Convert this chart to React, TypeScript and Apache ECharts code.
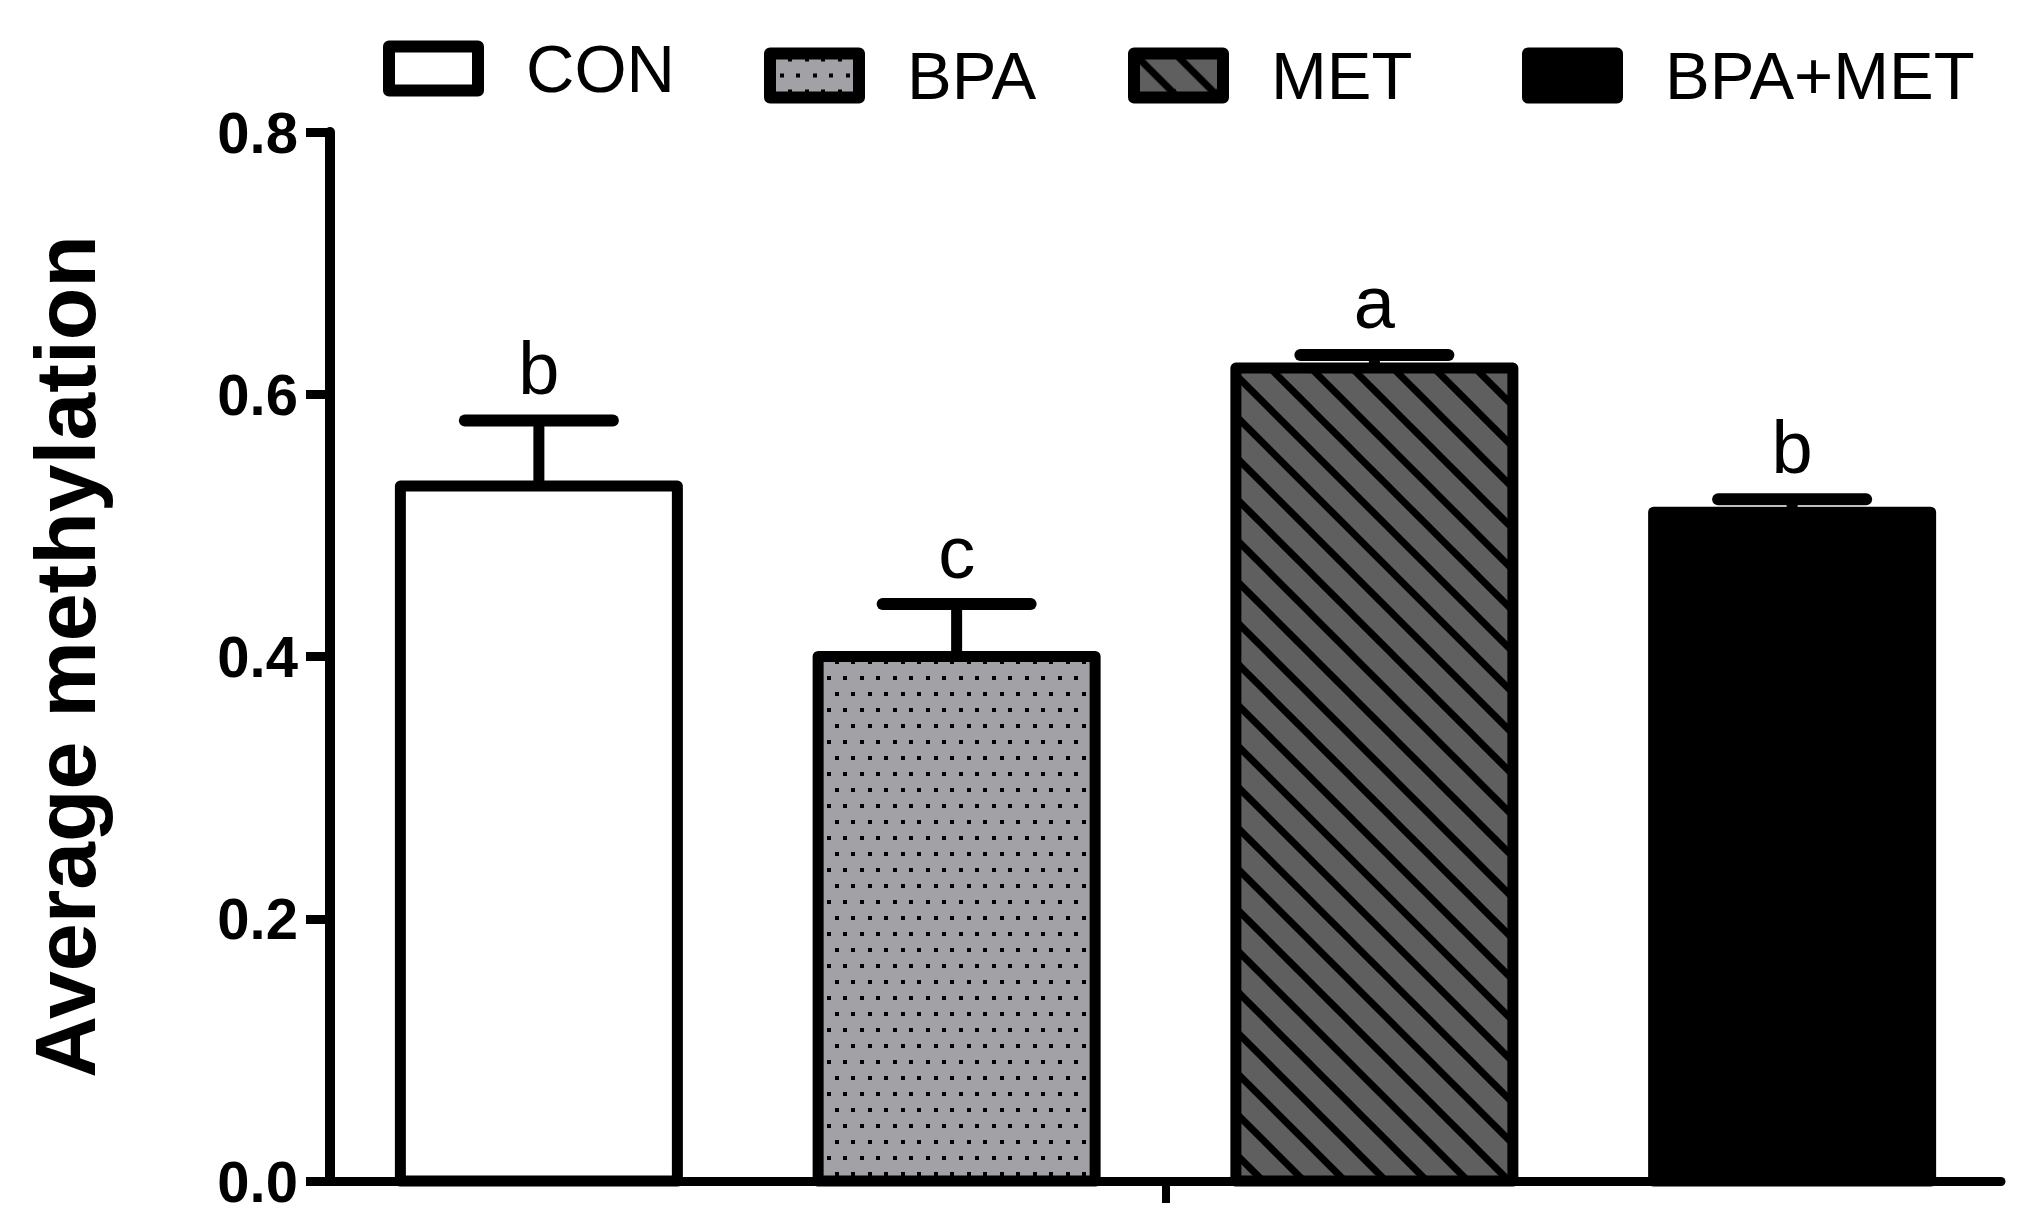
import React, { useEffect, useRef } from "react";
import * as echarts from "echarts";

const groups = ["CON", "BPA", "MET", "BPA+MET"];
const means = [0.53, 0.4, 0.62, 0.51];
const upper = [0.58, 0.44, 0.63, 0.52];
const letters = ["b", "c", "a", "b"];
const yTicks = [0, 0.2, 0.4, 0.6, 0.8];

const FONT = '"Liberation Sans", Arial, sans-serif';
const BAR_W = 277;
const BORDER = 11;
const legendLeft = [383, 764, 1128, 1522];
const legendTop = [35, 42, 42, 42];

function dotPattern() {
  const c = document.createElement("canvas");
  c.width = 33;
  c.height = 32;
  const g = c.getContext("2d")!;
  g.fillStyle = "#a2a1a6";
  g.fillRect(0, 0, 33, 32);
  g.fillStyle = "#000";
  [[2, 4], [18, 4], [10, 20], [26, 20]].forEach(([x, y]) => g.fillRect(x, y, 4, 4));
  return { image: c, repeat: "repeat", imageWidth: 33, imageHeight: 32 } as any;
}

function stripePattern() {
  const s = 41;
  const c = document.createElement("canvas");
  c.width = s;
  c.height = s;
  const g = c.getContext("2d")!;
  g.fillStyle = "#5f5f5f";
  g.fillRect(0, 0, s, s);
  g.strokeStyle = "#000";
  g.lineWidth = 7;
  for (let k = -1; k <= 1; k++) {
    g.beginPath();
    g.moveTo(-6, -6 + k * s);
    g.lineTo(s + 6, s + 6 + k * s);
    g.stroke();
  }
  return { image: c, repeat: "repeat", imageWidth: s, imageHeight: s } as any;
}

export default function App() {
  const ref = useRef<HTMLDivElement>(null);
  useEffect(() => {
    if (!ref.current) return;
    const chart = echarts.init(ref.current, null, { renderer: "svg" });
    const fills = ["#ffffff", dotPattern(), stripePattern(), "#000000"];

    const barSeries = groups.map((name, i) => ({
      name,
      type: "bar",
      xAxisIndex: 1,
      yAxisIndex: 0,
      barWidth: BAR_W,
      barGap: "-100%",
      data: groups.map((_, j) => (j === i ? means[i] : "-")),
      itemStyle: { color: fills[i], borderWidth: 0 },
      z: 2,
    }));

    const outlineSeries = {
      type: "custom",
      xAxisIndex: 1,
      yAxisIndex: 0,
      z: 3,
      data: groups.map((_, i) => [i, means[i], upper[i]]),
      renderItem: (params: any, api: any) => {
        const i = api.value(0);
        const base = api.coord([i, api.value(1)]);
        const top = api.coord([i, api.value(2)]);
        const zero = api.coord([i, 0]);
        const half = 74;
        return {
          type: "group",
          children: [
            {
              type: "rect",
              shape: { x: base[0] - BAR_W / 2, y: base[1], width: BAR_W, height: zero[1] - base[1] },
              style: { fill: "none", stroke: "#000", lineWidth: BORDER, lineJoin: "round" },
            },
            {
              type: "line",
              shape: { x1: base[0], y1: base[1], x2: top[0], y2: top[1] },
              style: { stroke: "#000", lineWidth: 11 },
            },
            {
              type: "line",
              shape: { x1: top[0] - half, y1: top[1], x2: top[0] + half, y2: top[1] },
              style: { stroke: "#000", lineWidth: 12, lineCap: "round" },
            },
            {
              type: "text",
              x: top[0],
              y: top[1] - 15,
              style: {
                text: letters[params.dataIndex],
                fontFamily: FONT,
                fontSize: 74,
                fill: "#000",
                align: "center",
                verticalAlign: "bottom",
              },
            },
          ],
        };
      },
    };

    chart.setOption({
      animation: false,
      backgroundColor: "#ffffff",
      grid: { left: 330, right: 37, top: 132, bottom: 50, containLabel: false },
      legend: groups.map((name, i) => ({
        data: [name],
        left: legendLeft[i],
        top: legendTop[i],
        padding: 0,
        icon: "rect",
        itemWidth: 89,
        itemHeight: 44,
        selectedMode: false,
        itemStyle: { borderColor: "#000", borderWidth: 12, borderJoin: "round" },
        textStyle: { fontSize: 67, fontFamily: FONT, color: "#000", padding: [0, 0, 0, 43] },
      })),
      xAxis: [
        {
          type: "category",
          data: [""],
          axisLine: { show: true, lineStyle: { color: "#000", width: 9, cap: "round" } },
          axisTick: { show: true, alignWithLabel: true, length: 22, lineStyle: { color: "#000", width: 8 } },
          axisLabel: { show: false },
          splitLine: { show: false },
        },
        {
          type: "category",
          data: groups,
          show: false,
        },
      ],
      yAxis: {
        type: "value",
        min: yTicks[0],
        max: yTicks[yTicks.length - 1],
        interval: 0.2,
        name: "Average methylation",
        nameLocation: "middle",
        nameGap: 222,
        nameTextStyle: { fontSize: 86, fontWeight: "bold", fontFamily: FONT, color: "#000" },
        axisLine: { show: true, lineStyle: { color: "#000", width: 10 } },
        axisTick: { show: true, length: 24, lineStyle: { color: "#000", width: 9 } },
        axisLabel: {
          margin: 32,
          fontSize: 58,
          fontWeight: "bold",
          fontFamily: FONT,
          color: "#000",
          formatter: (v: number) => v.toFixed(1),
        },
        splitLine: { show: false },
      },
      series: [...barSeries, outlineSeries],
    });
    return () => chart.dispose();
  }, []);
  return (
    <div
      ref={ref}
      style={{ position: "fixed", left: 0, top: 0, width: 2038, height: 1231, background: "#fff" }}
    />
  );
}
